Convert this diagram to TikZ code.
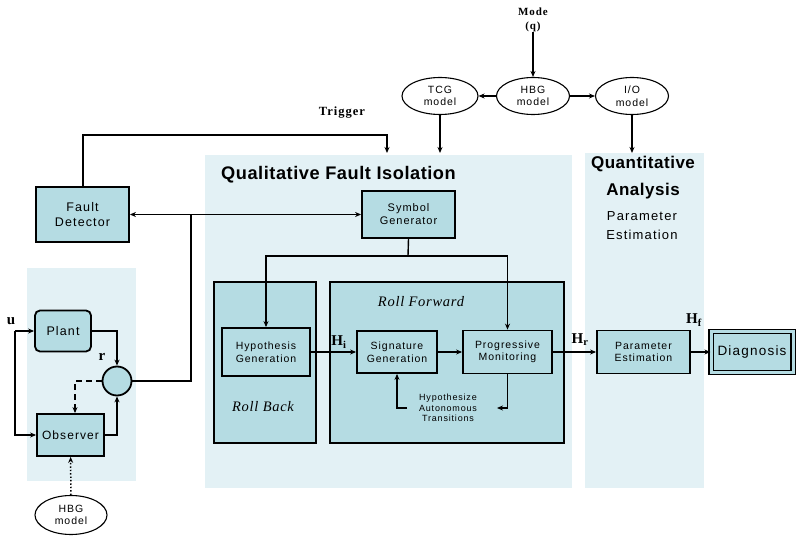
\documentclass[tikz,border=0pt]{standalone}
\usepackage{fontspec}
\setmainfont{Liberation Serif}
\setsansfont{Liberation Sans}
\newfontfamily\lsf[LetterSpace=9]{Liberation Sans}
\newfontfamily\lsfb[LetterSpace=3]{Liberation Sans Bold}
\newfontfamily\lsrb[LetterSpace=8]{Liberation Serif Bold}
\newfontfamily\lsri[LetterSpace=5]{Liberation Serif Italic}
\usetikzlibrary{shapes.geometric,arrows.meta,calc}
\definecolor{panel}{HTML}{E3F1F5}
\definecolor{boxc}{HTML}{B5DCE3}
\begin{document}
\begin{tikzpicture}[x=1pt,y=-1pt,
  box/.style={draw, line width=1.8pt, fill=boxc, align=center, inner sep=1pt, font=\lsf\fontsize{10.5}{12.5}\selectfont},
  grp/.style={draw, line width=1.3pt, fill=boxc},
  conn/.style={line width=1.4pt, -{Stealth[length=6pt,width=5pt]}},
  plain/.style={line width=1.4pt},
  ell/.style={ellipse, draw, line width=1.1pt, fill=white, inner sep=0pt, align=center, font=\lsf\fontsize{10.5}{12.5}\selectfont},
  sym/.style={font=\bfseries\fontsize{15}{15}\selectfont, inner sep=0pt},
  lbl/.style={inner sep=0pt, align=center}
]
\useasboundingbox (0,0) rectangle (796,540);
% panels
\fill[panel] (27,268) rectangle (136,481);
\fill[panel] (205,155) rectangle (572,488);
\fill[panel] (585,153) rectangle (704,488);
% group boxes
\draw[grp] (214,282) rectangle (316,443);
\draw[grp] (330,282) rectangle (564,443);
% titles
\node[lbl, font=\lsfb\fontsize{18.2}{19}\selectfont, anchor=west] (qfi) at (221,175) {Qualitative Fault Isolation};
\node[lbl, font=\lsfb\fontsize{17}{27}\selectfont] (qa) at (643,178) {Quantitative\\Analysis};
\node[lbl, font=\lsf\fontsize{13}{19}\selectfont] (pe) at (642,226) {Parameter\\Estimation};
\node[lbl, font=\lsri\fontsize{14.5}{15}\selectfont] (rf) at (421,302) {Roll Forward};
\node[lbl, font=\lsri\fontsize{14.5}{15}\selectfont] (rb) at (263,407) {Roll Back};
\node[lbl, font=\lsf\fontsize{9}{10.5}\selectfont] (hat) at (448,408) {Hypothesize\\Autonomous\\Transitions};
% boxes
\node[box, font=\lsf\fontsize{12.5}{14.5}\selectfont, minimum width=93pt, minimum height=55pt] (fd) at (82.5,214.5) {Fault\\Detector};
\node[box, font=\lsf\fontsize{11}{13}\selectfont, minimum width=93pt, minimum height=47pt] (sg) at (408.5,214.5) {Symbol\\Generator};
\node[box, minimum width=88pt, minimum height=48pt] (hg) at (266,352) {Hypothesis\\Generation};
\node[box, minimum width=80pt, minimum height=42pt] (sig) at (397,352) {Signature\\Generation};
\node[box, minimum width=89pt, minimum height=43pt] (pm) at (507.5,352) {Progressive\\Monitoring};
\node[box, minimum width=93pt, minimum height=43pt] (pest) at (643.5,352) {Parameter\\Estimation};
\node[box, line width=1.2pt, double=boxc, double distance=3pt, font=\lsf\fontsize{13.5}{15}\selectfont, minimum width=82pt, minimum height=41pt] (dg) at (752,352) {Diagnosis};
\node[box, rounded corners=5pt, font=\lsf\fontsize{12.5}{14}\selectfont, minimum width=56pt, minimum height=41pt] (pl) at (63,331) {Plant};
\node[box, font=\lsf\fontsize{12}{14}\selectfont, minimum width=67pt, minimum height=42pt] (ob) at (70.5,435) {Observer};
\node[circle, draw, line width=1.8pt, fill=boxc, minimum size=29pt, inner sep=0pt] (ci) at (117,381) {};
% ellipses
\node[ell, minimum width=76pt, minimum height=37pt] (tcg) at (440,96) {TCG\\model};
\node[ell, minimum width=73pt, minimum height=37pt] (hbg) at (533,96) {HBG\\model};
\node[ell, minimum width=73pt, minimum height=37pt] (io) at (632,96) {I/O\\model};
\node[ell, minimum width=72pt, minimum height=39pt] (hbg2) at (71,515) {HBG\\model};
\node[lbl, font=\lsrb\fontsize{11}{14}\selectfont] (mode) at (533,20) {Mode\\(q)};
% labels
\node[lbl, font=\lsrb\fontsize{12.5}{14}\selectfont] (trig) at (342,113) {Trigger};
\node[sym] (u) at (11,321) {u};
\node[sym] (r) at (102,357) {r};
\node[sym] (hi) at (339,342) {H\textsubscript{i}};
\node[sym] (hr) at (580,340) {H\textsubscript{r}};
\node[sym] (hf) at (694,320) {H\textsubscript{f}};
% coordinates
\coordinate (qtop1) at (387,153);
\coordinate (qtop2) at (440,153);
\coordinate (qtop3) at (632,153);
\coordinate (trigc) at (83,135);
\coordinate (jn) at (191,214.5);
\coordinate (bus) at (408,256);
\coordinate (ul) at (15,331);
\coordinate (dash1) at (75,381);
\coordinate (hatR) at (497,408);
\coordinate (hatL) at (407,408);
% connectors top
\draw[conn] (mode) -- (hbg);
\draw[conn] (hbg) -- (tcg);
\draw[conn] (hbg) -- (io);
\draw[conn] (tcg) -- (qtop2);
\draw[conn] (io) -- (qtop3);
\draw[conn] (fd.north -| trigc) |- (trigc -| qtop1) -- (qtop1);
% fault detector <-> symbol generator
\draw[conn, {Stealth[length=6pt,width=5pt]}-{Stealth[length=6pt,width=5pt]}] (fd) -- (sg);
\draw[plain] (jn) |- (ci.east);
% symbol generator bus
\draw[plain] (sg.south) -- (bus);
\draw[conn] (bus) -| (hg.north);
\draw[conn] (bus) -| (pm.north);
% main chain
\draw[conn] (hg) -- (sig);
\draw[conn] (sig) -- (pm);
\draw[conn] (pm) -- (pest);
\draw[conn] (pest) -- (dg);
\draw[conn] (pm.south) |- (hatR);
\draw[conn] (hatL) -| (sig.south);
% left loop
\draw[conn] (ul) -- (pl.west);
\draw[conn] (ul) |- (ob.west);
\draw[conn] (pl.east) -| (ci.north);
\draw[conn] (ob.east) -| (ci.south);
\draw[conn, dashed, dash pattern=on 6pt off 4pt] (ci.west) -- (dash1) -- (dash1 |- ob.north);
\draw[conn, dotted, line width=1.5pt] (hbg2) -- (ob);
\end{tikzpicture}
\end{document}
